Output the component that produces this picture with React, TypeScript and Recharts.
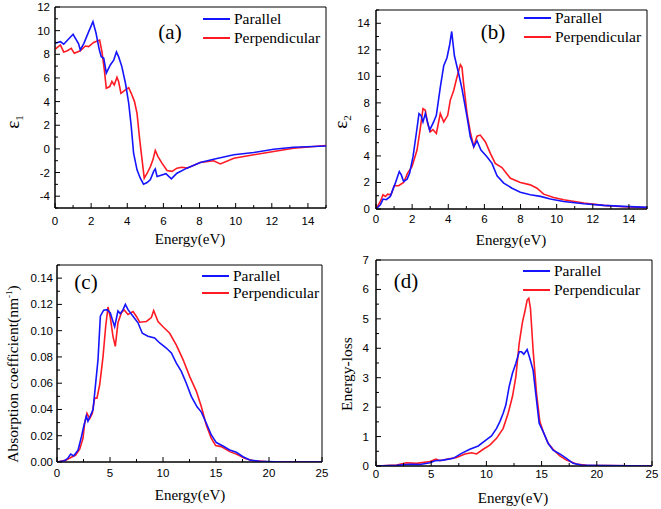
import React from 'react';
import { LineChart, Line, XAxis, YAxis, ReferenceArea } from 'recharts';

// ---------- Panel (a): epsilon 1 ----------
const aParE = [0, 0.3, 0.48, 1.0, 1.3, 1.4, 1.6, 1.86, 2.1, 2.27, 2.45, 2.56, 2.7, 2.84, 3.06, 3.25, 3.4, 3.52, 3.7, 3.9, 4.08, 4.22, 4.35, 4.54, 4.72, 4.9, 5.1, 5.28, 5.46, 5.55, 5.65, 5.92, 6.14, 6.44, 6.75, 7.3, 8.04, 8.78, 9.9, 11, 12.1, 13.2, 15];
const aParV = [8.93, 9.07, 8.85, 9.69, 8.9, 8.37, 8.93, 9.9, 10.76, 9.8, 8.4, 7.8, 7.66, 6.4, 7.1, 7.5, 8.2, 7.8, 6.96, 5.55, 3.86, 1.9, -0.37, -1.77, -2.48, -2.99, -2.85, -2.6, -1.9, -1.7, -2.34, -2.2, -2.1, -2.54, -2.06, -1.63, -1.15, -0.87, -0.5, -0.31, -0.03, 0.14, 0.25];
const aPerE = [0, 0.3, 0.48, 0.66, 0.9, 1.07, 1.4, 1.68, 1.86, 2.14, 2.47, 2.6, 2.73, 2.84, 3.03, 3.15, 3.28, 3.43, 3.52, 3.65, 3.84, 4.08, 4.22, 4.4, 4.54, 4.69, 4.82, 4.94, 5.1, 5.28, 5.42, 5.55, 5.7, 5.92, 6.2, 6.48, 6.75, 7.03, 7.3, 8.04, 8.78, 9.15, 9.9, 11, 12.1, 13.2, 15];
const aPerV = [8.42, 8.79, 8.2, 8.28, 8.5, 8.08, 8.3, 8.7, 8.65, 9.0, 9.2, 8.2, 6.68, 5.13, 5.27, 5.7, 5.4, 6.06, 5.7, 4.7, 4.93, 5.18, 4.7, 4.0, 3.0, 0.76, -0.93, -2.48, -2.06, -1.5, -0.93, -0.14, -0.65, -1.21, -1.83, -1.9, -1.63, -1.55, -1.63, -1.15, -1.0, -1.27, -0.79, -0.5, -0.22, 0.06, 0.28];

// ---------- Panel (b): epsilon 2 ----------
const bParE = [0, 0.24, 0.39, 0.57, 0.79, 1.07, 1.29, 1.4, 1.53, 1.72, 1.86, 2.05, 2.23, 2.38, 2.49, 2.6, 2.73, 2.97, 3.19, 3.34, 3.56, 3.75, 3.93, 4.08, 4.19, 4.34, 4.58, 4.76, 5.04, 5.22, 5.41, 5.59, 5.81, 6.14, 6.42, 6.7, 7.07, 7.53, 7.99, 8.54, 9.1, 9.65, 10.39, 11.5, 12.6, 13.7, 15];
const bParV = [0, 0.32, 0.75, 0.7, 0.95, 1.95, 2.82, 2.57, 2.07, 2.25, 2.7, 3.94, 5.69, 7.19, 7.06, 6.56, 7.19, 5.94, 6.56, 7.06, 9.18, 10.8, 11.4, 12.4, 13.38, 11.55, 10.18, 9.06, 6.94, 5.44, 4.69, 5.14, 4.44, 3.94, 3.44, 2.5, 1.95, 1.57, 1.27, 1.07, 0.95, 0.75, 0.57, 0.4, 0.27, 0.2, 0.12];
const bPerE = [0, 0.24, 0.39, 0.52, 0.65, 0.83, 1.01, 1.25, 1.53, 1.75, 1.99, 2.27, 2.45, 2.6, 2.73, 2.86, 3.0, 3.15, 3.34, 3.56, 3.75, 3.97, 4.11, 4.3, 4.48, 4.67, 4.76, 4.85, 5.04, 5.22, 5.41, 5.59, 5.77, 6.05, 6.33, 6.6, 6.97, 7.44, 7.99, 8.54, 8.91, 9.28, 9.83, 10.39, 11.5, 12.6, 13.7, 15];
const bPerV = [0, 0.57, 1.07, 0.95, 1.12, 1.07, 1.75, 1.75, 2.0, 2.7, 3.19, 4.44, 6.06, 7.56, 7.44, 6.44, 5.81, 5.99, 5.69, 7.19, 6.56, 7.06, 8.19, 8.93, 9.93, 10.88, 10.68, 9.43, 7.19, 5.81, 4.69, 5.49, 5.57, 5.07, 4.19, 3.44, 3.12, 2.32, 2.0, 1.82, 1.57, 1.12, 0.87, 0.7, 0.45, 0.27, 0.17, 0.1];

// ---------- Panel (c): absorption coefficient ----------
const cParE = [0, 0.72, 1.04, 1.29, 1.57, 1.98, 2.3, 2.52, 2.77, 2.92, 3.14, 3.4, 3.65, 3.87, 4.09, 4.4, 4.72, 5.03, 5.28, 5.44, 5.75, 5.97, 6.23, 6.45, 6.7, 7.17, 7.64, 8.05, 8.58, 9.21, 9.69, 10.31, 10.79, 11.26, 11.73, 12.2, 12.67, 13.21, 13.62, 14.09, 14.56, 15.03, 15.66, 16.29, 16.92, 17.55, 18.18, 19.1, 21.3, 25];
const cParV = [0, 0.001, 0.003, 0.006, 0.0046, 0.009, 0.019, 0.027, 0.035, 0.031, 0.035, 0.04, 0.06, 0.078, 0.111, 0.1156, 0.116, 0.1135, 0.107, 0.103, 0.115, 0.113, 0.116, 0.12, 0.116, 0.111, 0.106, 0.098, 0.0957, 0.0944, 0.0906, 0.0868, 0.083, 0.0753, 0.069, 0.06, 0.05, 0.042, 0.038, 0.0295, 0.0206, 0.0148, 0.0122, 0.0092, 0.0074, 0.004, 0.0015, 0.0005, 0, 0];
const cPerE = [0, 0.88, 1.35, 1.76, 2.14, 2.45, 2.61, 2.83, 3.08, 3.33, 3.55, 3.77, 4.03, 4.34, 4.59, 4.81, 5.03, 5.28, 5.5, 5.75, 6.07, 6.32, 6.7, 6.95, 7.17, 7.48, 7.8, 8.43, 8.9, 9.12, 9.53, 10.0, 10.63, 11.26, 11.89, 12.52, 13.14, 13.62, 14.09, 14.56, 14.97, 15.5, 16.29, 16.92, 17.7, 18.49, 19.75, 25];
const cPerV = [0, 0.0015, 0.0036, 0.0053, 0.0097, 0.018, 0.0295, 0.037, 0.033, 0.037, 0.0486, 0.0486, 0.059, 0.08, 0.103, 0.118, 0.11, 0.0957, 0.088, 0.106, 0.1135, 0.116, 0.1123, 0.1135, 0.1145, 0.111, 0.1064, 0.107, 0.11, 0.1153, 0.107, 0.103, 0.098, 0.089, 0.078, 0.065, 0.054, 0.042, 0.028, 0.018, 0.0125, 0.0117, 0.0079, 0.006, 0.0028, 0.001, 0.0003, 0];

// ---------- Panel (d): energy loss ----------
const dParE = [0, 1.87, 3.08, 3.98, 4.89, 5.34, 6.09, 6.99, 7.75, 8.5, 9.26, 9.86, 10.46, 10.92, 11.22, 11.52, 11.76, 12.06, 12.36, 12.67, 12.97, 13.18, 13.39, 13.69, 13.93, 14.23, 14.47, 14.78, 15.14, 15.59, 16.04, 16.65, 17.25, 17.85, 18.76, 25];
const dParV = [0, 0.02, 0.06, 0.05, 0.11, 0.18, 0.2, 0.26, 0.43, 0.57, 0.68, 0.85, 1.02, 1.28, 1.51, 1.79, 2.07, 2.7, 3.15, 3.49, 3.88, 3.88, 3.8, 3.96, 3.66, 3.26, 2.47, 1.45, 1.17, 0.77, 0.54, 0.41, 0.26, 0.09, 0.02, 0];
const dPerE = [0, 1.87, 2.77, 3.68, 4.89, 5.43, 5.79, 6.39, 7.3, 8.05, 8.66, 9.11, 9.71, 10.31, 10.92, 11.52, 11.97, 12.36, 12.67, 12.97, 13.27, 13.48, 13.69, 13.84, 13.99, 14.23, 14.54, 14.84, 15.14, 15.59, 16.04, 16.65, 17.25, 18.15, 19.06, 25];
const dPerV = [0, 0.03, 0.11, 0.09, 0.15, 0.23, 0.18, 0.23, 0.29, 0.41, 0.45, 0.41, 0.57, 0.71, 0.94, 1.28, 1.79, 2.36, 3.04, 4.17, 4.9, 5.24, 5.64, 5.7, 5.36, 3.94, 2.47, 1.51, 1.17, 0.77, 0.57, 0.34, 0.2, 0.07, 0.02, 0];

// ---------- Ticks ----------
const ticksA_X = [0, 1, 2, 3, 4, 5, 6, 7, 8, 9, 10, 11, 12, 13, 14, 15];
const ticksA_Y = [-5, -4, -3, -2, -1, 0, 1, 2, 3, 4, 5, 6, 7, 8, 9, 10, 11, 12];
const ticksB_Y = [0, 1, 2, 3, 4, 5, 6, 7, 8, 9, 10, 11, 12, 13, 14, 15];
const ticksCD_X = [0, 2.5, 5, 7.5, 10, 12.5, 15, 17.5, 20, 22.5, 25];
const ticksC_Y = [0, 0.01, 0.02, 0.03, 0.04, 0.05, 0.06, 0.07, 0.08, 0.09, 0.1, 0.11, 0.12, 0.13, 0.14, 0.15];
const ticksD_Y = [0, 0.5, 1, 1.5, 2, 2.5, 3, 3.5, 4, 4.5, 5, 5.5, 6, 6.5, 7];

const seriesNames = ['Parallel', 'Perpendicular'];
const BLUE = '#1414ff';
const RED = '#ff1a24';

const zip = (e: number[], v: number[]) => e.map((x, i) => ({ e: x, v: v[i] }));

const SANS = '"Liberation Sans", Arial, sans-serif';
const SERIF = '"Liberation Serif", "Times New Roman", serif';

const isMult = (v: number, step: number) => Math.abs(v / step - Math.round(v / step)) < 1e-6;

function makeXTick(step: number, offset: number, fmt: (v: number) => string) {
  return (props: any) => {
    const { x, y, payload } = props;
    const v = payload.value;
    const major = isMult(v, step);
    return (
      <g>
        <line x1={x} x2={x} y1={y} y2={y - (major ? 5 : 3)} stroke="#000" strokeWidth={1} />
        {major && (
          <text x={x} y={y + offset} textAnchor="middle" dominantBaseline="central" fontFamily={SANS} fontSize={11.5} fill="#000">
            {fmt(v)}
          </text>
        )}
      </g>
    );
  };
}

function makeYTick(step: number, gap: number, fmt: (v: number) => string) {
  return (props: any) => {
    const { x, y, payload } = props;
    const v = payload.value;
    const major = isMult(v, step);
    return (
      <g>
        <line x1={x} x2={x + (major ? 5 : 3)} y1={y} y2={y} stroke="#000" strokeWidth={1} />
        {major && (
          <text x={x - gap} y={y} textAnchor="end" dominantBaseline="central" fontFamily={SANS} fontSize={11.5} fill="#000">
            {fmt(v)}
          </text>
        )}
      </g>
    );
  };
}

type PanelProps = {
  left: number; top: number; width: number; height: number;
  mTop: number; mRight: number; yWidth: number; xHeight: number;
  xDomain: [number, number]; xTicks: number[]; xStep: number; xOffset: number;
  yDomain: [number, number]; yTicks: number[]; yStep: number; yGap: number;
  yFmt: (v: number) => string;
  par: { e: number; v: number }[]; per: { e: number; v: number }[];
};

function Panel(p: PanelProps) {
  return (
    <div style={{ position: 'absolute', left: p.left, top: p.top, width: p.width, height: p.height }}>
      <LineChart width={p.width} height={p.height} margin={{ top: p.mTop, right: p.mRight, left: 0, bottom: 0 }}>
        <XAxis
          dataKey="e" type="number" domain={p.xDomain} ticks={p.xTicks} interval={0}
          allowDataOverflow height={p.xHeight} tickSize={0} tickMargin={0} tickLine={false}
          axisLine={{ stroke: '#000' }} tick={makeXTick(p.xStep, p.xOffset, (v) => String(v))}
        />
        <YAxis
          dataKey="v" type="number" domain={p.yDomain} ticks={p.yTicks} interval={0}
          allowDataOverflow width={p.yWidth} tickSize={0} tickMargin={0} tickLine={false}
          axisLine={{ stroke: '#000' }} tick={makeYTick(p.yStep, p.yGap, p.yFmt)}
        />
        <ReferenceArea x1={p.xDomain[0]} x2={p.xDomain[1]} y1={p.yDomain[0]} y2={p.yDomain[1]} fill="none" fillOpacity={0} stroke="#000" strokeWidth={1} />
        <Line data={p.per} dataKey="v" name={seriesNames[1]} type="linear" stroke={RED} strokeWidth={1.6} dot={false} isAnimationActive={false} />
        <Line data={p.par} dataKey="v" name={seriesNames[0]} type="linear" stroke={BLUE} strokeWidth={1.6} dot={false} isAnimationActive={false} />
      </LineChart>
    </div>
  );
}

function Legend({ x, y1, y2 }: { x: number; y1: number; y2: number }) {
  const row = (y: number, color: string, label: string) => (
    <>
      <div style={{ position: 'absolute', left: x, top: y - 1, width: 27, height: 2, background: color }} />
      <div style={{ position: 'absolute', left: x + 31, top: y - 10, height: 20, lineHeight: '20px', fontFamily: SERIF, fontSize: 15.5, whiteSpace: 'nowrap', color: '#000' }}>{label}</div>
    </>
  );
  return (
    <>
      {row(y1, BLUE, seriesNames[0])}
      {row(y2, RED, seriesNames[1])}
    </>
  );
}

function Txt({ cx, cy, size, rotate, children }: { cx: number; cy: number; size: number; rotate?: boolean; children: React.ReactNode }) {
  return (
    <div style={{
      position: 'absolute', left: cx, top: cy, transform: `translate(-50%, -50%)${rotate ? ' rotate(-90deg)' : ''}`,
      fontFamily: SERIF, fontSize: size, whiteSpace: 'nowrap', color: '#000', lineHeight: 1,
    }}>{children}</div>
  );
}

export default function App() {
  return (
    <div style={{ position: 'absolute', left: 0, top: 0, width: 661, height: 509, background: '#fff', overflow: 'hidden' }}>
      <Panel left={0} top={0} width={330} height={250} mTop={7} mRight={4} yWidth={55} xHeight={42}
        xDomain={[0, 15]} xTicks={ticksA_X} xStep={2} xOffset={13}
        yDomain={[-5, 12]} yTicks={ticksA_Y} yStep={2} yGap={5} yFmt={(v) => String(v)}
        par={zip(aParE, aParV)} per={zip(aPerE, aPerV)} />
      <Panel left={330} top={0} width={331} height={250} mTop={10} mRight={14} yWidth={46} xHeight={41}
        xDomain={[0, 15]} xTicks={ticksA_X} xStep={2} xOffset={10}
        yDomain={[0, 15]} yTicks={ticksB_Y} yStep={2} yGap={6} yFmt={(v) => String(v)}
        par={zip(bParE, bParV)} per={zip(bPerE, bPerV)} />
      <Panel left={0} top={250} width={330} height={259} mTop={15} mRight={8} yWidth={57} xHeight={47}
        xDomain={[0, 25]} xTicks={ticksCD_X} xStep={5} xOffset={11}
        yDomain={[0, 0.15]} yTicks={ticksC_Y} yStep={0.02} yGap={4} yFmt={(v) => v.toFixed(2)}
        par={zip(cParE, cParV)} per={zip(cPerE, cPerV)} />
      <Panel left={330} top={250} width={331} height={259} mTop={10} mRight={9} yWidth={46} xHeight={43}
        xDomain={[0, 25]} xTicks={ticksCD_X} xStep={5} xOffset={8}
        yDomain={[0, 7]} yTicks={ticksD_Y} yStep={1} yGap={7} yFmt={(v) => String(v)}
        par={zip(dParE, dParV)} per={zip(dPerE, dPerV)} />

      <Legend x={203} y1={19} y2={38} />
      <Legend x={524} y1={18} y2={37} />
      <Legend x={202} y1={276} y2={293} />
      <Legend x={523} y1={271} y2={290} />

      <Txt cx={170} cy={32} size={21}>(a)</Txt>
      <Txt cx={493} cy={32} size={21}>(b)</Txt>
      <Txt cx={86} cy={282} size={21}>(c)</Txt>
      <Txt cx={406} cy={281} size={21}>(d)</Txt>

      <Txt cx={190} cy={239} size={15}>Energy(eV)</Txt>
      <Txt cx={511} cy={240} size={15}>Energy(eV)</Txt>
      <Txt cx={190} cy={495} size={15}>Energy(eV)</Txt>
      <Txt cx={513} cy={498} size={15}>Energy(eV)</Txt>

      <Txt cx={14} cy={122} size={19} rotate>ε<sub style={{ fontSize: 11 }}>1</sub></Txt>
      <Txt cx={342} cy={122} size={19} rotate>ε<sub style={{ fontSize: 11 }}>2</sub></Txt>
      <Txt cx={13} cy={374} size={15.5} rotate>Absorption coefficient(nm<sup style={{ fontSize: 9 }}>-1</sup>)</Txt>
      <Txt cx={347} cy={374} size={15.5} rotate>Energy-loss</Txt>
    </div>
  );
}
